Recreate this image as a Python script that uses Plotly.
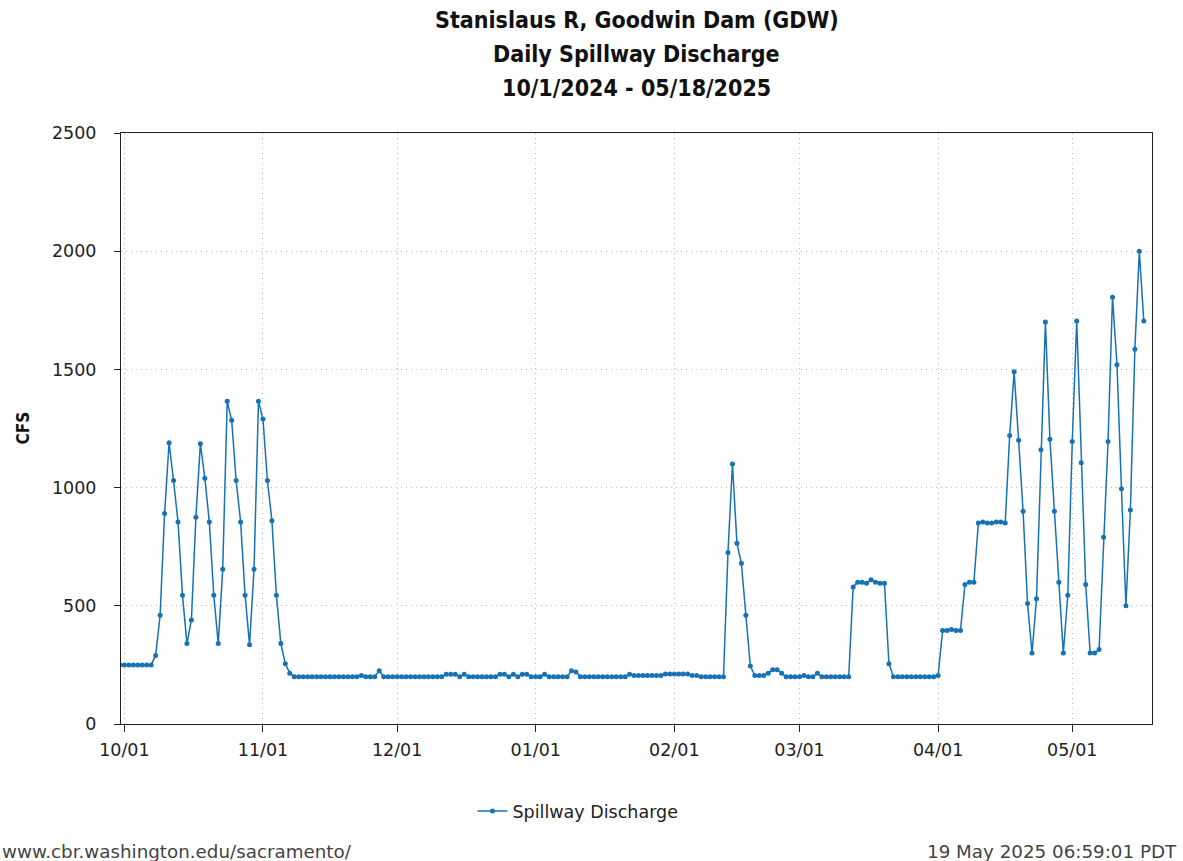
import pandas as pd
import plotly.graph_objects as go

# Daily spillway discharge (cfs), 10/1/2024 .. 05/18/2025
oct_2024 = [250, 250, 250, 250, 250, 250, 250, 250, 290, 460, 890, 1190, 1030, 855, 545, 340,
            440, 875, 1185, 1040, 855, 545, 340, 655, 1365, 1285, 1030, 855, 545, 335, 655]
nov_2024 = [1365, 1290, 1030, 860, 545, 340, 255, 215, 200, 200, 200, 200, 200, 200, 200, 200,
            200, 200, 200, 200, 200, 200, 200, 205, 200, 200, 200, 225, 200, 200]
dec_2024 = [200, 200, 200, 200, 200, 200, 200, 200, 200, 200, 200, 200, 210, 210, 210, 200,
            210, 200, 200, 200, 200, 200, 200, 200, 210, 210, 200, 210, 200, 210, 210]
jan_2025 = [200, 200, 200, 210, 200, 200, 200, 200, 200, 225, 220, 200, 200, 200, 200, 200,
            200, 200, 200, 200, 200, 200, 210, 205, 205, 205, 205, 205, 205, 205, 212]
feb_2025 = [212, 212, 212, 212, 212, 205, 205, 200, 200, 200, 200, 200, 200, 725, 1100, 765,
            680, 460, 245, 205, 205, 205, 215, 230, 230, 215, 200, 200]
mar_2025 = [200, 200, 205, 200, 200, 215, 200, 200, 200, 200, 200, 200, 200, 580, 600, 600,
            595, 610, 600, 595, 595, 255, 200, 200, 200, 200, 200, 200, 200, 200, 200]
apr_2025 = [200, 205, 395, 395, 400, 395, 395, 590, 600, 600, 850, 855, 850, 850, 855, 855,
            850, 1220, 1490, 1200, 900, 510, 300, 530, 1160, 1700, 1205, 900, 600, 300]
may_2025 = [545, 1195, 1705, 1105, 590, 300, 300, 315, 790, 1195, 1805, 1520, 995, 500, 905,
            1585, 2000, 1705]

discharge = oct_2024 + nov_2024 + dec_2024 + jan_2025 + feb_2025 + mar_2025 + apr_2025 + may_2025
dates = pd.date_range("2024-10-01", periods=len(discharge), freq="D")

title_lines = ["Stanislaus R, Goodwin Dam (GDW)", "Daily Spillway Discharge", "10/1/2024 - 05/18/2025"]
y_ticks = [0, 500, 1000, 1500, 2000, 2500]
series_name = "Spillway Discharge"
footer_left = "www.cbr.washington.edu/sacramento/"
footer_right = "19 May 2025 06:59:01 PDT"

# the source plots each day's value at the start of the previous calendar day
plot_x = dates - pd.Timedelta(days=1)

BLUE = "#1672b4"
SANS = "DejaVu Sans, Verdana, sans-serif"
COND = "DejaVu Sans Condensed, DejaVu Sans, sans-serif"
TICK_FONT = dict(family=SANS, size=17.5, color="#222222")

fig = go.Figure()
fig.add_trace(go.Scatter(
    x=plot_x, y=discharge, mode="lines+markers", name=series_name,
    line=dict(color=BLUE, width=1.5),
    marker=dict(color=BLUE, size=5),
))

W, H = 1183, 861
L, R, T, B = 121, 31, 133, 137
pw, ph = W - L - R, H - T - B

def px_to_paper_y(py):
    return (H - B - py) / ph

def px_to_paper_x(px):
    return (px - L) / pw

annotations = []
for txt, yc in zip(title_lines, [20, 54, 88]):
    annotations.append(dict(text=txt, xref="paper", yref="paper", x=0.5, y=px_to_paper_y(yc),
                            xanchor="center", yanchor="middle", showarrow=False,
                            font=dict(family=COND, size=23, color="#111111", weight="bold")))
annotations.append(dict(text="CFS", xref="paper", yref="paper", x=px_to_paper_x(22), y=0.5,
                        textangle=-90, xanchor="center", yanchor="middle", showarrow=False,
                        font=dict(family=COND, size=17, color="#111111", weight="bold")))
annotations.append(dict(text=footer_left, xref="paper", yref="paper", x=px_to_paper_x(0),
                        y=px_to_paper_y(851), xanchor="left", yanchor="middle", showarrow=False,
                        font=dict(family=SANS, size=18.3, color="#444444")))
annotations.append(dict(text=footer_right, xref="paper", yref="paper", x=px_to_paper_x(1179),
                        y=px_to_paper_y(851), xanchor="right", yanchor="middle", showarrow=False,
                        font=dict(family=SANS, size=18.3, color="#444444")))

fig.update_layout(
    width=W, height=H,
    margin=dict(l=L, r=R, t=T, b=B, pad=0),
    paper_bgcolor="white", plot_bgcolor="white",
    showlegend=True,
    legend=dict(orientation="h", x=px_to_paper_x(578), y=px_to_paper_y(811),
                xanchor="center", yanchor="middle",
                font=dict(family=SANS, size=17.5, color="#222222")),
    annotations=annotations,
)
fig.update_xaxes(
    type="date", range=["2024-09-30 06:00", "2025-05-18 20:00"],
    tickformat="%m/%d", dtick="M1", tick0="2024-10-01",
    ticks="outside", ticklen=7, tickcolor="#222222", ticklabelstandoff=3,
    showline=True, linecolor="#222222", linewidth=1, mirror=True,
    showgrid=True, gridcolor="#b8b8b8", griddash="1px,4px", gridwidth=1,
    zeroline=False, tickfont=TICK_FONT,
)
fig.update_yaxes(
    range=[0, 2500], tickvals=y_ticks,
    ticks="outside", ticklen=6, tickcolor="#222222", ticklabelstandoff=14,
    showline=True, linecolor="#222222", linewidth=1, mirror=True,
    showgrid=True, gridcolor="#b8b8b8", griddash="1px,4px", gridwidth=1,
    zeroline=False, tickfont=TICK_FONT,
)

fig.write_html("out.html")
